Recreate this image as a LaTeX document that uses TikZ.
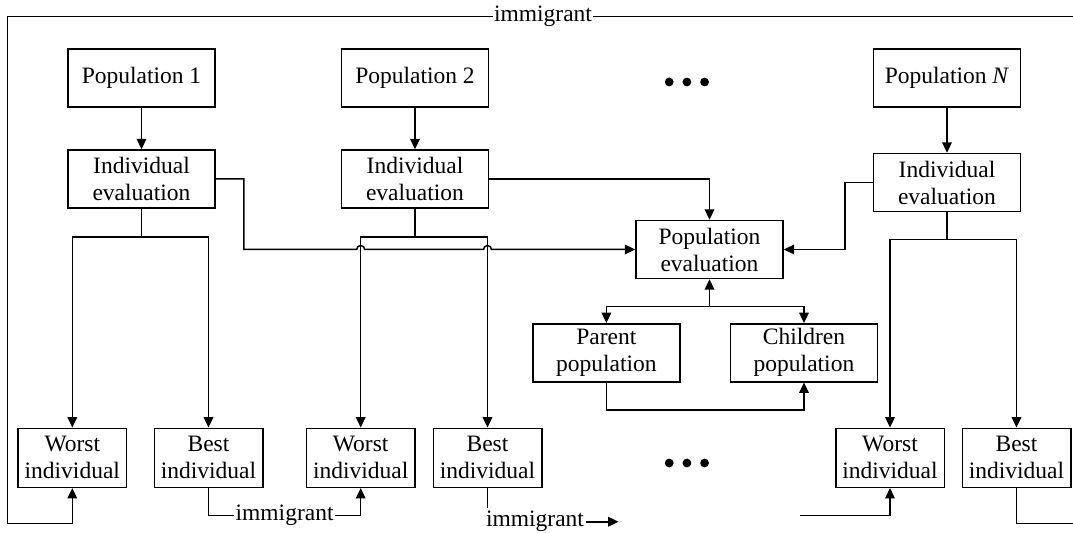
\documentclass[tikz,border=0pt]{standalone}
\usepackage{fontspec}
\setmainfont{Liberation Serif}
\usetikzlibrary{arrows.meta}
\begin{document}
\begin{tikzpicture}[x=0.5pt,y=-0.5pt,
  every node/.style={font=\fontsize{11.75}{13.5}\selectfont},
  bigbox/.style={draw,line width=0.75pt,align=center,inner sep=1pt,minimum width=73.5pt,minimum height=29pt},
  smallbox/.style={draw,line width=0.75pt,align=center,inner sep=1pt,minimum width=54.25pt,minimum height=29.5pt},
  conn/.style={line width=0.75pt},
  arr/.style={conn,-{Triangle[length=5.2pt,width=4.8pt]}},
  lab/.style={fill=white,inner sep=0.6pt}]
\useasboundingbox (0,0) rectangle (1073,533);
% boxes
\node[bigbox] (p1) at (141.5,78) {Population 1};
\node[bigbox] (p2) at (415,78) {Population 2};
\node[bigbox] (pn) at (947,78) {Population \textit{N}};
\node[bigbox] (e1) at (141.5,179) {Individual\\evaluation};
\node[bigbox] (e2) at (415,179) {Individual\\evaluation};
\node[bigbox] (en) at (947,182.5) {Individual\\evaluation};
\node[bigbox] (pe) at (709.5,249.5) {Population\\evaluation};
\node[bigbox] (par) at (606.4,352.8) {Parent\\population};
\node[bigbox] (chi) at (804,352.8) {Children\\population};
\node[smallbox] (w1) at (72.3,457.8) {Worst\\individual};
\node[smallbox] (b1) at (208.5,457.8) {Best\\individual};
\node[smallbox] (w2) at (360.7,457.8) {Worst\\individual};
\node[smallbox] (b2) at (487.5,457.8) {Best\\individual};
\node[smallbox] (wn) at (890,457.8) {Worst\\individual};
\node[smallbox] (bn) at (1016.5,457.8) {Best\\individual};
% dots
\foreach \x in {669.2,686.9,704.6}{
  \fill (\x,82) circle[radius=2.2pt];
  \fill (\x,463) circle[radius=2.2pt];
}
% population -> evaluation
\draw[arr] (p1) -- (e1);
\draw[arr] (p2) -- (e2);
\draw[arr] (pn) -- (en);
% evaluation -> worst/best
\coordinate (j1) at (141.5,237);
\coordinate (j2) at (415,237);
\coordinate (jn) at (947,239.3);
\draw[conn] (e1) -- (j1);
\draw[arr] (j1) -| (w1);
\draw[arr] (j1) -| (b1);
\draw[conn] (e2) -- (j2);
\draw[arr] (j2) -| (w2);
\draw[arr] (j2) -| (b2);
\draw[conn] (en) -- (jn);
\draw[arr] (jn) -| (wn);
\draw[arr] (jn) -| (bn);
% evaluation -> population evaluation
\coordinate (c1) at (243.8,249.5);
\draw[arr] (e1.east) -| (c1) -- (356.7,249.5) arc[start angle=180,end angle=0,radius=2pt]
  -- (483.5,249.5) arc[start angle=180,end angle=0,radius=2pt] -- (pe.west);
\draw[arr] (e2.east) -| (pe.north);
\coordinate (c2) at (845,182.5);
\draw[arr] (en.west) -- (c2) |- (pe.east);
% population evaluation <-> parent / children
\coordinate (jp) at (709.5,306.7);
\draw[arr] (jp) -- (pe.south);
\draw[arr] (jp) -| (par.north);
\draw[arr] (jp) -| (chi.north);
\coordinate (pb) at (606.4,410);
\draw[arr] (par.south) -- (pb) -| (chi.south);
% migration
\coordinate (rt) at (1073,16.5);
\coordinate (lt) at (7.6,16.5);
\coordinate (lb) at (7.6,523.3);
\draw[arr] (rt) -- (lt) -- (lb) -| (w1.south);
\node[lab] (im1) at (543,16.5) {immigrant};
\coordinate (m1) at (208.5,515.5);
\coordinate (m2) at (360.7,515.5);
\draw[arr] (b1.south) -- (m1) -- (m2) -- (w2.south);
\node[lab] (im3) at (284.6,515.5) {immigrant};
\coordinate (b2e) at (487.5,508);
\draw[conn] (b2.south) -- (b2e);
\node[inner sep=0.6pt,anchor=base] (im2) at (535,527) {immigrant};
\draw[arr] (im2.east) -- ++(33,0);
\coordinate (wl) at (800,515.7);
\draw[arr] (wl) -| (wn.south);
\coordinate (rb) at (1073,523.3);
\draw[conn] (bn.south) |- (rb);
\end{tikzpicture}
\end{document}
